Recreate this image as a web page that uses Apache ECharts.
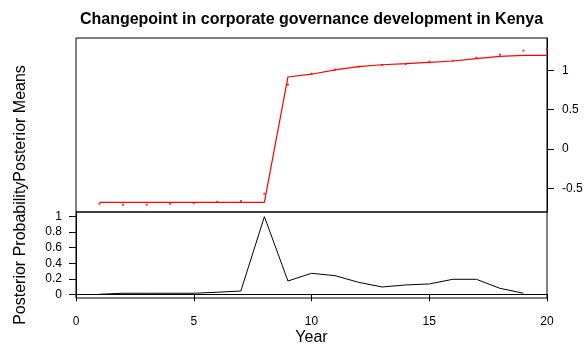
<!DOCTYPE html>
<html>
<head>
<meta charset="utf-8">
<script src="https://cdn.jsdelivr.net/npm/echarts@6/dist/echarts.min.js"></script>
<style>
html,body{margin:0;padding:0;background:#fff;}
#c{width:586px;height:356px;}
</style>
</head>
<body>
<div id="c"></div>
<script>
var years = [1,2,3,4,5,6,7,8,9,10,11,12,13,14,15,16,17,18,19,20];
var observedMeans = [-0.695,-0.707,-0.707,-0.695,-0.686,-0.670,-0.661,-0.568,0.817,0.957,1.008,1.046,1.067,1.080,1.110,1.122,1.160,1.198,1.249,1.274];
var posteriorMeans = [-0.677,-0.677,-0.677,-0.677,-0.677,-0.677,-0.677,-0.677,0.915,0.950,1.005,1.046,1.070,1.084,1.100,1.118,1.148,1.177,1.190,1.190];
var probYears = [1,2,3,4,5,6,7,8,9,10,11,12,13,14,15,16,17,18,19];
var posteriorProb = [0.0,0.013,0.013,0.013,0.013,0.026,0.042,1.0,0.171,0.27,0.24,0.154,0.094,0.12,0.133,0.193,0.193,0.077,0.013];
var meanTicks = [-0.5,0,0.5,1];
var probTicks = [0,0.2,0.4,0.6,0.8,1];

var FONT = '"Liberation Sans", Arial, sans-serif';
function zip(a,b){return a.map(function(v,i){return [v,b[i]];});}

var chart = echarts.init(document.getElementById('c'), null, {renderer:'canvas'});
chart.setOption({
  animation:false,
  backgroundColor:'#fff',
  grid:[
    {left:76, top:38, width:471, height:174, show:true, borderColor:'#000', borderWidth:1, backgroundColor:'transparent'},
    {left:76, top:212, width:471, height:86, show:true, borderColor:'#000', borderWidth:1, backgroundColor:'transparent'}
  ],
  xAxis:[
    {gridIndex:0, type:'value', min:0, max:20, show:false},
    {gridIndex:1, type:'value', min:0, max:20, interval:5, position:'bottom',
     axisLine:{show:true, lineStyle:{color:'#000', width:1}},
     axisTick:{show:true, inside:false, length:7, lineStyle:{color:'#000'}},
     axisLabel:{color:'#000', fontSize:12, fontFamily:FONT, margin:18},
     splitLine:{show:false}}
  ],
  yAxis:[
    {gridIndex:0, type:'value', min:-0.8, max:1.41, position:'right',
     axisLine:{show:true, onZero:false, lineStyle:{color:'#000', width:1}},
     axisTick:{show:true, inside:false, length:7, customValues:meanTicks, lineStyle:{color:'#000', width:1}},
     axisLabel:{color:'#000', fontSize:12, fontFamily:FONT, margin:15, customValues:meanTicks},
     splitLine:{show:false}},
    {gridIndex:1, type:'value', min:-0.048, max:1.06, position:'left',
     axisLine:{show:true, onZero:false, lineStyle:{color:'#000', width:1}},
     axisTick:{show:true, inside:false, length:7, customValues:probTicks, lineStyle:{color:'#000', width:1}},
     axisLabel:{color:'#000', fontSize:12, fontFamily:FONT, margin:14, customValues:probTicks},
     splitLine:{show:false}}
  ],
  series:[
    {type:'line', xAxisIndex:0, yAxisIndex:0, data:zip(years,posteriorMeans),
     showSymbol:false, lineStyle:{color:'#ff0000', width:1.2}, itemStyle:{color:'#ff0000'}, silent:true},
    {type:'scatter', xAxisIndex:0, yAxisIndex:0, data:zip(years,observedMeans),
     symbol:'rect', symbolSize:2, itemStyle:{color:'#ff0000'}, silent:true},
    {type:'line', xAxisIndex:1, yAxisIndex:1, data:zip(probYears,posteriorProb),
     showSymbol:false, lineStyle:{color:'#000', width:1}, itemStyle:{color:'#000'}, silent:true}
  ],
  graphic:[
    {type:'text', x:311.5, y:20, silent:true,
     style:{text:'Changepoint in corporate governance development in Kenya', fill:'#000',
            font:'bold 16px ' + FONT, textAlign:'center', textVerticalAlign:'middle'}},
    {type:'text', x:311.5, y:338, silent:true,
     style:{text:'Year', fill:'#000', font:'16px ' + FONT, textAlign:'center', textVerticalAlign:'middle'}},
    {type:'text', x:21, y:195, rotation:Math.PI/2, silent:true,
     style:{text:'Posterior ProbabilityPosterior Means', fill:'#000', font:'16px ' + FONT, textAlign:'center', textVerticalAlign:'middle'}}
  ]
});
</script>
</body>
</html>
